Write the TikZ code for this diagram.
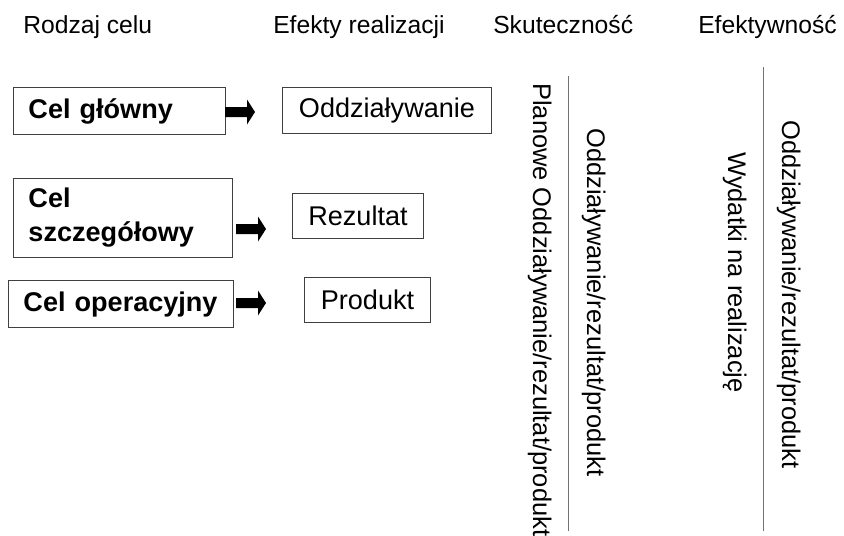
\documentclass[tikz,border=0pt]{standalone}
\usepackage{fontspec}
\setmainfont{Liberation Sans}

\begin{document}
\begin{tikzpicture}[x=0.75pt, y=-0.75pt,
  header/.style={anchor=base west, inner sep=0pt, font=\fontsize{18.5}{22}\selectfont},
  goalbox/.style={draw=black!75, line width=0.75pt, anchor=north west, align=left,
    inner xsep=11.25pt, inner ysep=0pt,
    font=\fontsize{20.3}{25.5}\selectfont\bfseries},
  effectbox/.style={draw=black!75, line width=0.75pt, anchor=north west, align=center,
    inner sep=0pt, font=\fontsize{20.3}{24}\selectfont},
  vtext/.style={rotate=-90, anchor=base west, inner sep=0pt,
    font=\fontsize{19.1}{22}\selectfont},
  divider/.style={draw=black!55, line width=0.75pt},
  pics/blockarrow/.style={code={
    \fill[black] (0,-5) -- (22,-5) -- (22,-12.5) -- (30,0) -- (22,12.5) -- (22,5) -- (0,5) -- cycle;}}]

\useasboundingbox[fill=white] (0,0) rectangle (844,536);

% column headers
\node[header] (hType)  at (23,33)  {Rodzaj celu};
\node[header] (hEff)   at (273,33) {Efekty realizacji};
\node[header] (hSkut)  at (493,33) {Skuteczność};
\node[header] (hEfek)  at (698,33) {Efektywność};

% goal boxes
\node[goalbox, text width=136.5pt, minimum height=35.25pt] (g1) at (13,87) {Cel główny};
\node[goalbox, text width=141.75pt, minimum height=59.25pt] (g2) at (13,178) {Cel\\szczegółowy};
\node[goalbox, text width=146.25pt, minimum height=35.25pt] (g3) at (8,280) {Cel operacyjny};

% effect boxes
\node[effectbox, minimum width=156.75pt, minimum height=34.5pt] (e1) at (282,87) {Oddziaływanie};
\node[effectbox, minimum width=98.25pt, minimum height=33.75pt] (e2) at (292,193) {Rezultat};
\node[effectbox, minimum width=94.5pt, minimum height=33.75pt] (e3) at (304,277) {Produkt};

% block arrows between goals and effects
\coordinate (a1) at (225,112);
\coordinate (a2) at (236,229);
\coordinate (a3) at (236,303);
\pic at (a1) {blockarrow};
\pic at (a2) {blockarrow};
\pic at (a3) {blockarrow};

% skuteczność as a fraction
\node[vtext] (sNum) at (533,83) {Planowe Oddziaływanie/rezultat/produkt};
\coordinate (sTop) at (568,76);
\coordinate (sBot) at (568,531);
\draw[divider] (sTop) -- (sBot);
\node[vtext] (sDen) at (587,128) {Oddziaływanie/rezultat/produkt};

% efektywność as a fraction
\node[vtext] (fNum) at (728,152) {Wydatki na realizację};
\coordinate (fTop) at (763,67);
\coordinate (fBot) at (763,531);
\draw[divider] (fTop) -- (fBot);
\node[vtext] (fDen) at (782,120) {Oddziaływanie/rezultat/produkt};

\end{tikzpicture}
\end{document}
